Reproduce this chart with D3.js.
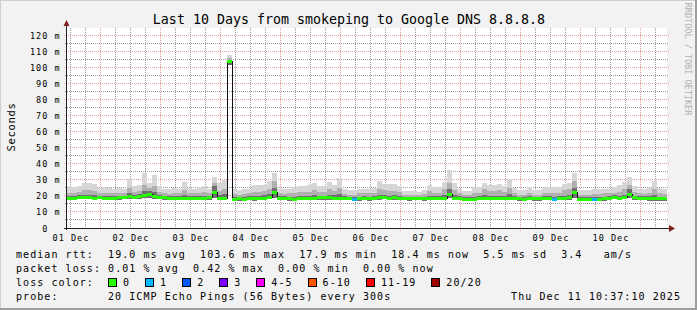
<!DOCTYPE html>
<html>
<head>
<meta charset="utf-8">
<script src="https://cdn.jsdelivr.net/npm/d3@7"></script>
<style>
  body { margin: 0; background: #f2f2f2; }
  svg { display: block; }
  text { font-family: "DejaVu Sans Mono", monospace; white-space: pre; fill: #000; }
</style>
</head>
<body>
<svg id="chart" width="697" height="310"></svg>
<script>
// time range of the graph, one value every 2 hours
const start = new Date(Date.UTC(2025, 11, 1, 10, 37, 10));
const end = new Date(Date.UTC(2025, 11, 11, 10, 37, 10));
const binHours = 2;

// median rtt in ms
const median = [
  18.6, 18.5, 18.7, 18.7, 18.8, 18.6, 18.8, 18.5, 18.3, 18.6,
  18.7, 18.9, 19.4, 19.2, 19.6, 20.2, 21.0, 19.6, 19.0, 18.7,
  18.5, 18.4, 18.3, 18.5, 18.4, 18.3, 18.4, 18.6, 18.7, 22.0,
  18.6, 18.3, 103.6, 18.0, 18.1, 17.9, 18.3, 18.2, 18.5, 18.6,
  18.9, 22.0, 18.6, 18.3, 18.2, 18.0, 18.3, 18.6, 18.5, 18.6,
  18.8, 18.7, 18.7, 18.6, 18.5, 18.6, 18.4, 17.8, 18.2, 18.4,
  18.2, 18.3, 18.7, 18.9, 18.6, 18.7, 18.5, 18.4, 18.2, 18.3,
  18.4, 18.2, 18.5, 18.4, 18.5, 18.6, 20.8, 18.6, 18.4, 18.0,
  18.0, 17.8, 18.3, 18.5, 18.6, 18.4, 18.5, 18.4, 18.6, 18.3,
  18.2, 18.0, 18.3, 18.1, 18.1, 18.4, 18.3, 17.8, 18.4, 18.5,
  18.8, 21.8, 18.0, 17.9, 17.9, 17.8, 18.0, 18.2, 18.4, 18.9,
  18.6, 18.9, 21.0, 18.7, 18.4, 18.3, 18.2, 18.2, 18.1, 18.2
];

// smoke: lowest ping, top of dark core, top of mid band, highest ping (ms)
const smokeMin = [
  17.6, 17.6, 17.8, 17.8, 17.9, 17.6, 17.8, 17.5, 17.3, 17.6,
  17.7, 17.9, 18.2, 18.0, 18.3, 18.5, 18.6, 18.3, 17.8, 17.6,
  17.4, 17.3, 17.2, 17.5, 17.4, 17.2, 17.3, 17.6, 17.6, 18.6,
  17.5, 17.2, 101.5, 16.9, 17.0, 16.8, 17.2, 17.1, 17.4, 17.5,
  17.8, 18.6, 17.5, 17.2, 17.1, 16.9, 17.2, 17.5, 17.4, 17.5,
  17.7, 17.6, 17.6, 17.5, 17.4, 17.5, 17.3, 16.8, 17.1, 17.3,
  17.1, 17.2, 17.6, 17.8, 17.5, 17.6, 17.4, 17.3, 17.1, 17.2,
  17.3, 17.1, 17.4, 17.3, 17.4, 17.5, 18.5, 17.5, 17.3, 16.9,
  16.9, 16.7, 17.2, 17.4, 17.5, 17.3, 17.4, 17.3, 17.5, 17.2,
  17.1, 16.9, 17.2, 17.0, 17.0, 17.3, 17.2, 16.8, 17.3, 17.4,
  17.7, 18.5, 16.9, 16.8, 16.8, 16.8, 16.9, 17.1, 17.3, 17.8,
  17.5, 17.8, 18.5, 17.6, 17.3, 17.2, 17.1, 17.1, 17.0, 17.1
];
const smokeCore = [
  20.0, 20.0, 20.3, 20.5, 20.5, 20.3, 20.2, 20.0, 19.8, 20.0,
  20.2, 20.2, 21.5, 20.5, 21.0, 23.0, 23.0, 22.5, 20.5, 20.0,
  19.8, 19.8, 19.7, 20.3, 19.7, 19.6, 19.8, 20.2, 20.0, 26.0,
  20.5, 21.0, 104.5, 19.3, 19.2, 19.2, 19.6, 19.8, 20.0, 20.3,
  21.0, 25.0, 20.0, 19.6, 19.5, 19.5, 19.8, 20.2, 20.0, 20.5,
  20.2, 20.2, 20.8, 20.3, 21.0, 19.8, 19.5, 19.2, 19.5, 19.7,
  19.5, 19.7, 20.5, 20.6, 20.2, 20.3, 20.0, 19.5, 19.3, 19.5,
  19.5, 19.4, 20.0, 19.8, 19.8, 20.5, 24.0, 20.3, 19.7, 19.2,
  19.2, 19.3, 19.7, 20.5, 20.2, 19.9, 20.2, 19.9, 21.0, 19.6,
  19.3, 19.2, 19.6, 19.3, 19.3, 19.8, 19.7, 19.2, 19.7, 20.2,
  20.5, 25.0, 19.2, 19.1, 19.1, 19.1, 19.3, 19.5, 19.8, 20.4,
  20.1, 20.8, 24.0, 20.2, 19.7, 19.6, 19.6, 20.5, 19.4, 19.5
];
const smokeMid = [
  22.0, 22.0, 22.5, 23.5, 23.5, 23.0, 22.0, 22.0, 21.5, 21.5,
  22.0, 21.5, 25.0, 22.5, 23.0, 27.0, 25.0, 26.0, 22.5, 21.5,
  21.0, 21.5, 21.5, 23.5, 21.5, 21.5, 22.0, 22.5, 21.5, 28.0,
  23.0, 24.0, 105.5, 21.0, 20.5, 21.0, 21.5, 22.5, 22.5, 23.0,
  24.0, 29.0, 21.5, 21.0, 21.5, 22.0, 22.5, 22.5, 22.5, 23.5,
  22.5, 22.5, 24.0, 23.0, 25.0, 21.0, 20.5, 20.5, 21.5, 21.5,
  21.5, 22.0, 24.0, 23.5, 23.0, 23.0, 22.5, 20.5, 20.5, 20.5,
  20.5, 21.0, 23.0, 22.0, 22.0, 24.0, 28.0, 23.5, 21.5, 20.5,
  20.5, 22.0, 22.0, 24.0, 23.0, 23.0, 23.5, 22.5, 25.0, 21.5,
  20.5, 20.5, 22.0, 20.5, 20.5, 22.0, 22.0, 21.5, 22.0, 23.5,
  24.0, 29.0, 20.5, 20.5, 20.5, 21.0, 21.0, 21.5, 21.5, 22.0,
  22.5, 24.0, 27.0, 22.5, 21.5, 21.0, 21.5, 24.0, 21.5, 21.0
];
const smokeMax = [
  26.0, 25.5, 26.0, 28.0, 28.0, 27.5, 25.0, 25.5, 25.0, 24.5,
  25.0, 24.5, 30.5, 26.0, 27.0, 34.0, 28.0, 33.0, 26.0, 24.5,
  24.0, 25.0, 24.5, 28.5, 25.0, 24.5, 25.5, 26.0, 24.5, 32.0,
  28.0, 30.0, 107.5, 24.0, 23.5, 24.0, 24.5, 26.5, 26.5, 27.0,
  29.0, 34.0, 24.5, 24.0, 24.5, 25.5, 26.0, 26.0, 26.5, 28.0,
  26.0, 26.0, 28.5, 27.0, 31.0, 24.0, 23.5, 23.5, 24.5, 24.5,
  24.5, 25.0, 29.0, 27.5, 27.5, 27.5, 26.0, 23.0, 23.0, 23.0,
  22.5, 23.5, 27.0, 25.5, 25.5, 28.5, 36.0, 28.0, 24.5, 23.0,
  23.0, 25.5, 25.5, 28.0, 26.5, 26.5, 27.5, 26.0, 30.5, 25.0,
  23.5, 23.5, 25.5, 23.5, 23.5, 25.5, 25.5, 25.5, 25.5, 27.5,
  28.0, 34.0, 23.5, 23.5, 23.5, 24.5, 24.5, 24.5, 24.5, 25.5,
  26.5, 28.5, 32.0, 26.0, 24.5, 24.0, 25.0, 29.5, 25.0, 24.5
];

// bins with lost pings (bin index, pings lost of 20)
const lossBins = [57, 97, 105];
const lossCount = [1, 1, 1];

// loss color legend
const lossLabels = ["0", "1", "2", "3", "4-5", "6-10", "11-19", "20/20"];
const lossColors = ["#26ff00", "#00b8ff", "#0059ff", "#7e00ff", "#ff00ff", "#ff5500", "#ff0000", "#a10000"];
const lossUpper = [0, 1, 2, 3, 5, 10, 19, 20];

const yTicks = [0, 10, 20, 30, 40, 50, 60, 70, 80, 90, 100, 110, 120];
const yMinor = [5, 15, 25, 35, 45, 55, 65, 75, 85, 95, 105, 115];
const yTop = 124.4;

const svg = d3.select("#chart");
const W = 697, H = 310;
const pLeft = 67, pRight = 667, pTop = 28, pBottom = 228;

const x = d3.scaleUtc().domain([start, end]).range([pLeft, pRight]);
const y = d3.scaleLinear().domain([0, yTop]).range([pBottom, pTop]);

// frame
svg.append("rect").attr("width", W).attr("height", H).attr("fill", "#f2f2f2");
svg.append("path").attr("d", `M0,${H}V0H${W}`).attr("fill", "none")
  .attr("stroke", "#cfcfcf").attr("stroke-width", 2);
svg.append("path").attr("d", `M0,${H - 1}H${W - 1}V0`).attr("fill", "none")
  .attr("stroke", "#9e9e9e").attr("stroke-width", 2);

// canvas
svg.append("rect").attr("x", pLeft).attr("y", pTop)
  .attr("width", pRight - pLeft).attr("height", pBottom - pTop).attr("fill", "#fff");

const grid = svg.append("g");
const minorCol = "#9c9c9c", majorCol = "#e49c9c";
const px = v => Math.floor(v) + 0.5;

// vertical grid: 6 h minor, midnight major
const vTimes = d3.utcHour.every(6).range(start, end);
const isMajor = d => d.getUTCHours() === 0;
const vMinor = vTimes.filter(d => !isMajor(d));
const vMajor = vTimes.filter(isMajor);
grid.selectAll("line.vm").data(vMinor).join("line")
  .attr("class", "vm")
  .attr("x1", d => px(x(d))).attr("x2", d => px(x(d)))
  .attr("y1", pTop).attr("y2", pBottom + 2)
  .attr("stroke", minorCol).attr("stroke-dasharray", "1 1");
grid.selectAll("line.vM").data(vMajor).join("line")
  .attr("class", "vM")
  .attr("x1", d => px(x(d))).attr("x2", d => px(x(d)))
  .attr("y1", pTop).attr("y2", pBottom + 4)
  .attr("stroke", majorCol).attr("stroke-dasharray", "1 1");
// horizontal grid
grid.selectAll("line.hm").data(yMinor).join("line")
  .attr("class", "hm")
  .attr("x1", pLeft - 2).attr("x2", pRight + 2)
  .attr("y1", d => px(y(d))).attr("y2", d => px(y(d)))
  .attr("stroke", minorCol).attr("stroke-dasharray", "1 1");
grid.selectAll("line.hM").data(yTicks.slice(1)).join("line")
  .attr("class", "hM")
  .attr("x1", pLeft - 3).attr("x2", pRight + 3)
  .attr("y1", d => px(y(d))).attr("y2", d => px(y(d)))
  .attr("stroke", majorCol).attr("stroke-dasharray", "1 1");

// data points with step ends
const pts = median.map((m, i) => ({
  t: d3.utcHour.offset(start, i * binHours),
  med: m, lo: smokeMin[i], core: smokeCore[i], mid: smokeMid[i], hi: smokeMax[i]
}));
pts.push(Object.assign({}, pts[pts.length - 1], { t: end }));

const plot = svg.append("g").attr("shape-rendering", "crispEdges");
const band = (key, col) => plot.append("path").datum(pts)
  .attr("fill", col)
  .attr("d", d3.area().curve(d3.curveStepAfter)
    .x(d => x(d.t)).y0(d => y(d.lo)).y1(d => y(d[key])));
band("hi", "#d6d6d6");
band("mid", "#b0b0b0");
band("core", "#707070");

// median line
plot.append("path").datum(pts)
  .attr("fill", "none").attr("stroke", "#111").attr("stroke-width", 1)
  .attr("d", d3.line().curve(d3.curveStepAfter).x(d => x(d.t)).y(d => y(d.med)));

// loss colored median band
const lossOf = i => { const k = lossBins.indexOf(i); return k < 0 ? 0 : lossCount[k]; };
const colorOf = n => lossColors[lossUpper.findIndex(u => n <= u)];
const halfPx = 1.5;
plot.selectAll("rect.med").data(pts.slice(0, -1)).join("rect")
  .attr("class", "med")
  .attr("x", d => x(d.t))
  .attr("width", (d, i) => x(pts[i + 1].t) - x(d.t))
  .attr("y", d => y(d.med) - halfPx)
  .attr("height", halfPx * 2)
  .attr("fill", (d, i) => colorOf(lossOf(i)));

// axes
const axisCol = "#1f1f1f", arrowCol = "#801f1f";
svg.append("line").attr("x1", pLeft - 0.5).attr("x2", pLeft - 0.5).attr("y1", pBottom + 2).attr("y2", 24)
  .attr("stroke", axisCol).attr("shape-rendering", "crispEdges");
svg.append("line").attr("x1", pLeft - 3).attr("x2", pRight + 3).attr("y1", pBottom + 0.5).attr("y2", pBottom + 0.5)
  .attr("stroke", axisCol).attr("shape-rendering", "crispEdges");
svg.append("path").attr("d", `M${pLeft - 3.5},26 L${pLeft - 0.5},20 L${pLeft + 2.5},26 Z`).attr("fill", arrowCol);
svg.append("path").attr("d", `M${pRight + 2},225 L${pRight + 8},228.5 L${pRight + 2},232 Z`).attr("fill", arrowCol);

// y labels
const yFmt = v => v === 0 ? "  0  " : String(v).padStart(3, " ") + " m";
svg.append("g").selectAll("text").data(yTicks).join("text")
  .attr("x", 30).attr("y", d => y(d) + 3.5)
  .style("font-size", "8.5px").style("letter-spacing", "1px")
  .text(yFmt);

// x labels at noon
const xFmt = d3.utcFormat("%d %b");
svg.append("g").selectAll("text")
  .data(d3.utcHour.every(1).range(start, end).filter(t => t.getUTCHours() === 12))
  .join("text")
  .attr("x", d => x(d) + 0.5).attr("y", 241).attr("text-anchor", "middle")
  .style("font-size", "8.5px").style("letter-spacing", "1px")
  .text(xFmt);

// title & labels
svg.append("text").attr("x", 349).attr("y", 24).attr("text-anchor", "middle")
  .style("font-size", "13.3px").text("Last 10 Days from smokeping to Google DNS 8.8.8.8");
svg.append("text").attr("transform", "translate(15,127) rotate(-90)").attr("text-anchor", "middle")
  .style("font-size", "10.5px").style("letter-spacing", "0.7px").text("Seconds");
svg.append("text").attr("transform", "translate(685,59) rotate(90)").attr("text-anchor", "middle")
  .style("font-size", "8.5px").style("fill", "#b0b0b0").text("RRDTOOL / TOBI OETIKER");

// legend
const adv = 7.08, lx = 16;
const leg = (s, xx, yy) => svg.append("text").attr("x", xx).attr("y", yy)
  .style("font-size", "10px").style("letter-spacing", "1.06px").text(s);
leg("median rtt:  19.0 ms avg  103.6 ms max  17.9 ms min  18.4 ms now  5.5 ms sd  3.4   am/s", lx, 258);
leg("packet loss: 0.01 % avg  0.42 % max  0.00 % min  0.00 % now", lx, 272);
leg("loss color:", lx, 286);
let bx = lx + 13 * adv;
lossLabels.forEach((lab, i) => {
  svg.append("rect").attr("x", Math.round(bx) + 0.5).attr("y", 278.5).attr("width", 8).attr("height", 8)
    .attr("fill", lossColors[i]).attr("stroke", "#000");
  leg(lab, bx + 15, 286);
  bx += 15 + lab.length * adv + 15;
});
leg("probe:", lx, 300);
leg("20 ICMP Echo Pings (56 Bytes) every 300s", lx + 13 * adv, 300);
svg.append("text").attr("x", 681).attr("y", 300).attr("text-anchor", "end")
  .style("font-size", "10px").style("letter-spacing", "1.06px").text("Thu Dec 11 10:37:10 2025");

// grid check in the log
console.error("minor v:", vMinor.length, vMinor.slice(0, 3).map(d => px(x(d))).join(","),
  "minor h:", grid.selectAll("line.hm").size(), "major v:", vMajor.length);
</script>
</body>
</html>
